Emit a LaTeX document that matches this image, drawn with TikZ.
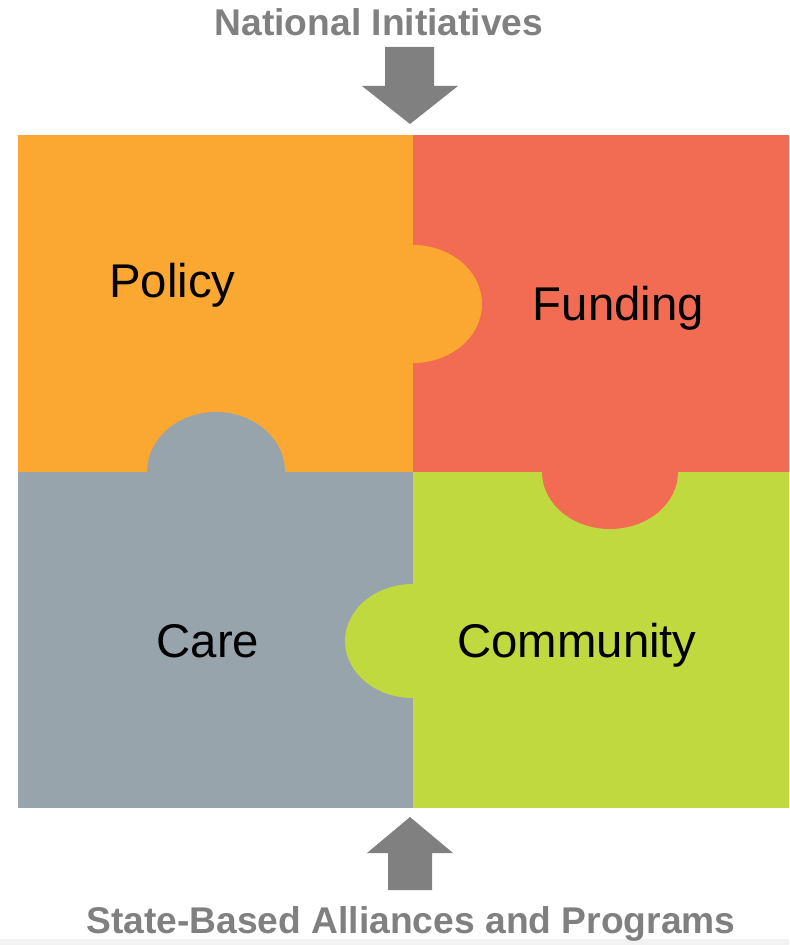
\documentclass[tikz,border=0pt]{standalone}
\usepackage{fontspec}
\setmainfont{Liberation Sans}
\definecolor{policyorange}{RGB}{250,168,50}
\definecolor{fundingred}{RGB}{241,108,83}
\definecolor{caregray}{RGB}{152,164,171}
\definecolor{communitygreen}{RGB}{192,217,62}
\definecolor{arrowgray}{RGB}{128,128,128}
\tikzset{every picture/.style={line width=0.75pt}}
\tikzset{
  piecelabel/.style={anchor=base, inner sep=0pt, font=\fontsize{35.5}{40}\selectfont},
  headlabel/.style={anchor=base, inner sep=0pt, text=arrowgray, font=\fontsize{27.9}{32}\selectfont\bfseries}
}

\begin{document}
\begin{tikzpicture}[x=0.75pt,y=0.75pt,yscale=-1,xscale=1]
	\useasboundingbox (0,0) rectangle (789,945);
	%Shape: Rectangle [bottom band]
	\fill [black!5] (0,939) rectangle (789,945);

	%Shape: Rectangle [Policy]
	\fill [policyorange] (18,135) rectangle (413,472);
	%Shape: Rectangle [Funding]
	\fill [fundingred] (413,135) rectangle (789,472);
	%Shape: Rectangle [Care]
	\fill [caregray] (18,472) rectangle (413,808);
	%Shape: Rectangle [Community]
	\fill [communitygreen] (413,472) rectangle (789,808);

	%Shape: Ellipse [tabs]
	\fill [policyorange] (413,304) ellipse [x radius=69, y radius=59];
	\fill [caregray] (216,472) ellipse [x radius=69, y radius=60];
	\fill [fundingred] (610,472) ellipse [x radius=68, y radius=57];
	\fill [communitygreen] (413,641) ellipse [x radius=68, y radius=57];

	%Shape: Arrow [down]
	\fill [arrowgray] (385,47) -- (434,47) -- (434,86) -- (458,86) -- (410,124) -- (362,86) -- (385,86) -- cycle;
	%Shape: Arrow [up]
	\fill [arrowgray] (410,817) -- (453,853) -- (432,853) -- (432,890) -- (388,890) -- (388,853) -- (367,853) -- cycle;

	% Text Node
	\node [piecelabel] (policy) at (172.5,297) {Policy};
	% Text Node
	\node [piecelabel] (funding) at (618.5,320) {Funding};
	% Text Node
	\node [piecelabel] (care) at (208,657) {Care};
	% Text Node
	\node [piecelabel] (community) at (577,657) {Community};
	% Text Node
	\node [headlabel] (national) at (379,36) {National Initiatives};
	% Text Node
	\node [headlabel] (statebased) at (411,933) {State-Based Alliances and Programs};

\end{tikzpicture}
\end{document}
